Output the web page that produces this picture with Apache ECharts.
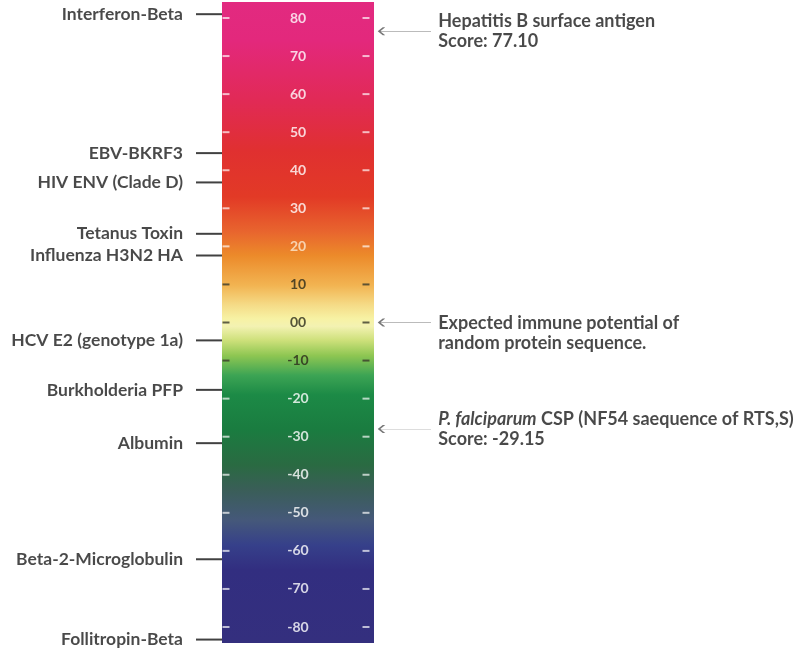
<!DOCTYPE html>
<html>
<head>
<meta charset="utf-8">
<title>Immune potential scale</title>
<script src="https://cdn.jsdelivr.net/npm/echarts@6/dist/echarts.min.js"></script>
<style>
  html, body { margin: 0; padding: 0; background: #fff; }
  #scaleChart { width: 800px; height: 651px; }
</style>
</head>
<body>
<div id="scaleChart"></div>
<script>
// extent of the colour bar (score units)
var barRange = [-84.2, 84.2]

// tick labels inside the bar
var tickValues = [80, 70, 60, 50, 40, 30, 20, 10, 0, -10, -20, -30, -40, -50, -60, -70, -80]
// ticks drawn in dark ink (on the pale part of the bar)
var darkTicks = [10, 0, -10]

// reference proteins on the left
var proteinNames = ['Interferon-Beta', 'EBV-BKRF3', 'HIV ENV (Clade D)', 'Tetanus Toxin', 'Influenza H3N2 HA',
  'HCV E2 (genotype 1a)', 'Burkholderia PFP', 'Albumin', 'Beta-2-Microglobulin', 'Follitropin-Beta']
var proteinScores = [81.0, 44.5, 36.8, 23.3, 17.6, -4.7, -17.7, -31.7, -62.2, -83.3]

// annotations on the right
var noteTexts = [
  'Hepatitis B surface antigen\nScore: 77.10',
  'Expected immune potential of\nrandom protein sequence.',
  '{it|P. falciparum} CSP (NF54 saequence of RTS,S)\nScore: -29.15'
]
var noteScores = [76.5, 0, -28]

// colour of the bar at a given score
var gradientValues = [84.2, 74, 58, 45, 33, 24, 17.6, 9.7, 4.5, 1, -1, -4.7, -8.7, -13.9, -19, -28, -37.5, -44, -52, -58.5, -65, -84.2]
var gradientColors = ['#e22a80', '#e3287c', '#e12a55', '#e03030', '#e23a26', '#e8642e', '#ec8a2a', '#f2b452', '#f5dc88',
  '#f7f2a4', '#f3f2b2', '#cde07a', '#8ec652', '#3ca454', '#1c8a46', '#1a7c40', '#2a6a42', '#3a5e58', '#45587a',
  '#36408a', '#322e80', '#342f7e']

var fontName = 'Lato, "Open Sans", sans-serif'

var myChart = echarts.init(document.getElementById('scaleChart'))

//  gradient stops, offsets measured from the top of the bar
var colorStops = gradientValues.map(function (v, i) {
  return {
    offset: (barRange[1] - v) / (barRange[1] - barRange[0]),
    color: gradientColors[i]
  }
})

var tickLeft = tickValues.map(function (v) {
  var dark = darkTicks.indexOf(v) >= 0
  return {
    value: [0, v],
    itemStyle: { color: dark ? '#3a3a2a' : 'rgba(255,255,255,0.85)' },
    label: { color: dark ? '#2a2a1a' : (v === 20 ? '#fbe8d0' : '#ffffff') }
  }
})
var tickRight = tickValues.map(function (v) {
  var dark = darkTicks.indexOf(v) >= 0
  return {
    value: [0, v],
    itemStyle: { color: dark ? '#3a3a2a' : 'rgba(255,255,255,0.85)' }
  }
})

var proteinData = proteinScores.map(function (v, i) {
  return { value: [0, v], name: proteinNames[i] }
})

var noteData = noteScores.map(function (v, i) {
  var item = { value: [0, v], name: noteTexts[i] }
  // this one starts level with its arrow
  if (i === 1) item.label = { offset: [0, 11] }
  return item
})

var option = {
  animation: false,
  backgroundColor: '#ffffff',
  grid: { left: 222, width: 152, top: 2, height: 641 },
  xAxis: {
    type: 'category',
    data: ['score'],
    boundaryGap: true,
    show: false
  },
  yAxis: {
    type: 'value',
    min: barRange[0],
    max: barRange[1],
    show: false
  },
  series: [
    {
      type: 'custom',
      data: [[0, barRange[0], barRange[1]]],
      clip: false,
      silent: true,
      renderItem: function (params, api) {
        var top = api.coord([api.value(0), api.value(2)])
        var bottom = api.coord([api.value(0), api.value(1)])
        var w = api.size([1, 0])[0]
        return {
          type: 'rect',
          shape: { x: top[0] - w / 2, y: top[1], width: w, height: bottom[1] - top[1] },
          style: {
            fill: new echarts.graphic.LinearGradient(0, 0, 0, 1, colorStops)
          }
        }
      }
    },
    {
      // left dashes + numbers
      type: 'scatter',
      clip: false,
      silent: true,
      symbol: 'rect',
      symbolSize: [7, 2],
      symbolOffset: [-72, 0],
      data: tickLeft,
      label: {
        show: true,
        position: 'inside',
        offset: [72, 0],
        fontFamily: fontName,
        fontWeight: 'bold',
        fontSize: 14,
        formatter: function (p) {
          return p.value[1] === 0 ? '00' : String(p.value[1])
        }
      }
    },
    {
      // right dashes
      type: 'scatter',
      clip: false,
      silent: true,
      symbol: 'rect',
      symbolSize: [7, 2],
      symbolOffset: [68, 0],
      data: tickRight
    },
    {
      // proteins on the left
      type: 'scatter',
      clip: false,
      silent: true,
      symbol: 'rect',
      symbolSize: [26, 2],
      symbolOffset: [-89, 0],
      itemStyle: { color: '#111111' },
      data: proteinData,
      label: {
        show: true,
        position: 'left',
        distance: 13,
        formatter: '{b}',
        color: '#1c1c1c',
        fontFamily: fontName,
        fontWeight: 'bold',
        fontSize: 17.5
      }
    },
    {
      // arrows + notes on the right
      type: 'scatter',
      clip: false,
      silent: true,
      symbol: 'path://M5,0 L0,4 L5,8 M0,4 L52,4',
      symbolSize: [52, 8],
      symbolOffset: [107, 0],
      itemStyle: { color: 'transparent', borderColor: '#555555', borderWidth: 1 },
      data: noteData,
      label: {
        show: true,
        position: 'right',
        distance: 6,
        formatter: '{b}',
        color: '#1c1c1c',
        fontFamily: fontName,
        fontWeight: 'bold',
        fontSize: 18,
        lineHeight: 20,
        rich: {
          it: {
            fontFamily: fontName,
            fontWeight: 'bold',
            fontStyle: 'italic',
            fontSize: 18,
            color: '#1c1c1c'
          }
        }
      }
    }
  ]
}
myChart.setOption(option)
</script>
</body>
</html>
